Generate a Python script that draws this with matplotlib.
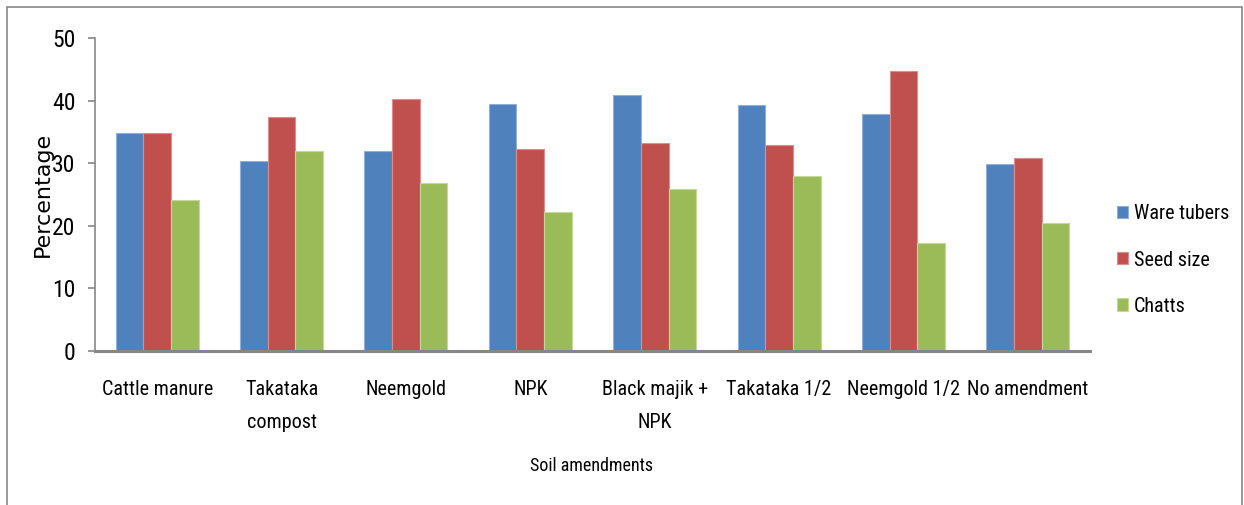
import numpy as np
import matplotlib
matplotlib.use("Agg")
import matplotlib.pyplot as plt
from matplotlib import font_manager
from matplotlib.patches import Rectangle

# Soil amendment trial: tuber size classes as percentage of yield
categories = ["Cattle manure", "Takataka\ncompost", "Neemgold", "NPK",
              "Black majik +\nNPK", "Takataka 1/2", "Neemgold 1/2", "No amendment"]
ware_tubers = [34.8, 30.4, 31.9, 39.4, 40.9, 39.3, 37.9, 29.8]
seed_size = [34.8, 37.4, 40.3, 32.2, 33.3, 32.9, 44.8, 30.9]
chatts = [24.1, 31.9, 26.9, 22.2, 25.9, 27.9, 17.2, 20.4]
series_names = ["Ware tubers", "Seed size", "Chatts"]
yticks = [0, 10, 20, 30, 40, 50]

colors = ["#4F81BD", "#C0504D", "#9BBB59"]
edges = ["#8FB0DA", "#DB8E8C", "#C3D89A"]

# pick a condensed sans face if one is installed
entries = font_manager.fontManager.ttflist
names = {f.name for f in entries}
condensed = [f.name for f in entries
             if f.stretch in ("condensed", "semi-condensed", "extra-condensed")
             or "Condensed" in f.name or "Narrow" in f.name]
preferred = ["Liberation Sans Narrow", "Roboto Condensed", "Open Sans Condensed",
             "DejaVu Sans Condensed", "Noto Sans Condensed"]
narrow_name = next((n for n in preferred if n in names), None)
if narrow_name is None and condensed:
    narrow_name = condensed[0]
if narrow_name is None:
    narrow_name = "DejaVu Sans"
narrow = [narrow_name, "DejaVu Sans"]
scale = 1.0 if narrow_name != "DejaVu Sans" else 0.82

W, H = 1244, 505
fig = plt.figure(figsize=(W / 100, H / 100), dpi=100)
ax = fig.add_axes([95 / W, 1 - 351 / H, (1090 - 95) / W, (351 - 38) / H])

x = np.arange(len(categories))
bw = 0.2225
for i, (vals, name) in enumerate(zip([ware_tubers, seed_size, chatts], series_names)):
    ax.bar(x + (i - 1) * bw, vals, width=bw, color=colors[i], edgecolor=edges[i],
           linewidth=0.8, label=name, zorder=2)

ax.set_xlim(-0.5, len(categories) - 0.5)
ax.set_ylim(0, 50)
ax.set_yticks(yticks)
ax.set_yticklabels([str(t) for t in yticks], family=narrow, fontsize=17 * scale)
ax.set_xticks(x)
ax.set_xticklabels(categories, family=narrow, fontsize=14.5 * scale, linespacing=1.9)
ax.tick_params(axis="x", length=0, pad=21)
ax.tick_params(axis="y", length=5, width=1.2, color="#868686", pad=9)

for s in ["top", "right"]:
    ax.spines[s].set_visible(False)
ax.spines["left"].set_color("#868686")
ax.spines["left"].set_linewidth(1.2)
ax.spines["bottom"].set_color("#868686")
ax.spines["bottom"].set_linewidth(2.2)
ax.spines["bottom"].set_zorder(3)

fig.text(592 / W, 1 - 466 / H, "Soil amendments", ha="center", va="center",
         family=narrow, fontsize=13 * scale)
fig.text(43 / W, 1 - 194 / H, "Percentage", rotation=90, ha="center", va="center",
         family="DejaVu Sans", fontsize=16)

leg = fig.legend(loc="center left", bbox_to_anchor=(1117 / W, 1 - 260 / H),
                 bbox_transform=fig.transFigure, frameon=False,
                 prop={"family": narrow, "size": 14.5 * scale}, handlelength=0.55,
                 handleheight=0.55, handletextpad=0.3, labelspacing=1.35,
                 borderpad=0, borderaxespad=0)

# Outer chart border
fig.patches.append(Rectangle((7 / W, -0.05), (1242 - 7) / W, 1.05 - 7 / H,
                             transform=fig.transFigure, fill=False,
                             edgecolor="#868686", linewidth=1.2))

fig.savefig("out.png", dpi=100)
